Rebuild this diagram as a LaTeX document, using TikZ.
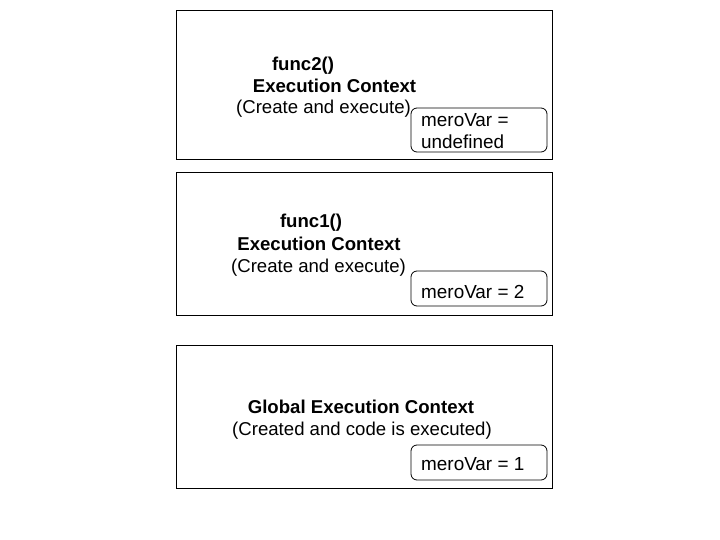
\documentclass[tikz,border=0pt]{standalone}
\usepackage{fontspec}
\setmainfont{Liberation Sans}
\begin{document}
\begin{tikzpicture}[x=1pt,y=-1pt,
  ctx/.style={draw=black,line width=0.8pt},
  var/.style={draw=black,line width=0.8pt,rounded corners=6pt},
  big/.style={font=\fontsize{18.6}{21}\selectfont,inner sep=0pt,anchor=base},
  bigb/.style={big,font=\fontsize{18.6}{21}\selectfont\bfseries},
  small/.style={font=\fontsize{18.9}{21}\selectfont,inner sep=0pt,anchor=base west}]
\useasboundingbox (0,0) rectangle (720,540);
% boxes
\draw[ctx] (176,10) rectangle (552,159);
\draw[ctx] (176,172) rectangle (552,315);
\draw[ctx] (176,345) rectangle (552,488);
% func2
\node[bigb] (f2a) at (303,71) {func2()};
\node[bigb] (f2b) at (334.5,93) {Execution Context};
\node[big] (f2c) at (323.5,113.5) {(Create and execute)};
\draw[var,fill=white] (411,108) rectangle (547,152);
\node[small] (v2a) at (421,126.5) {meroVar =};
\node[small] (v2b) at (421,148.5) {undefined};
% func1
\node[bigb] (f1a) at (311,228) {func1()};
\node[bigb] (f1b) at (319,251) {Execution Context};
\node[big] (f1c) at (318.5,272) {(Create and execute)};
\draw[var] (411,271) rectangle (547,306);
\node[small] (v1) at (421,298) {meroVar = 2};
% global
\node[bigb] (ga) at (361,413.5) {Global Execution Context};
\node[big] (gb) at (362,435) {(Created and code is executed)};
\draw[var] (411,445) rectangle (547,480);
\node[small] (v0) at (421,470) {meroVar = 1};
\end{tikzpicture}
\end{document}
